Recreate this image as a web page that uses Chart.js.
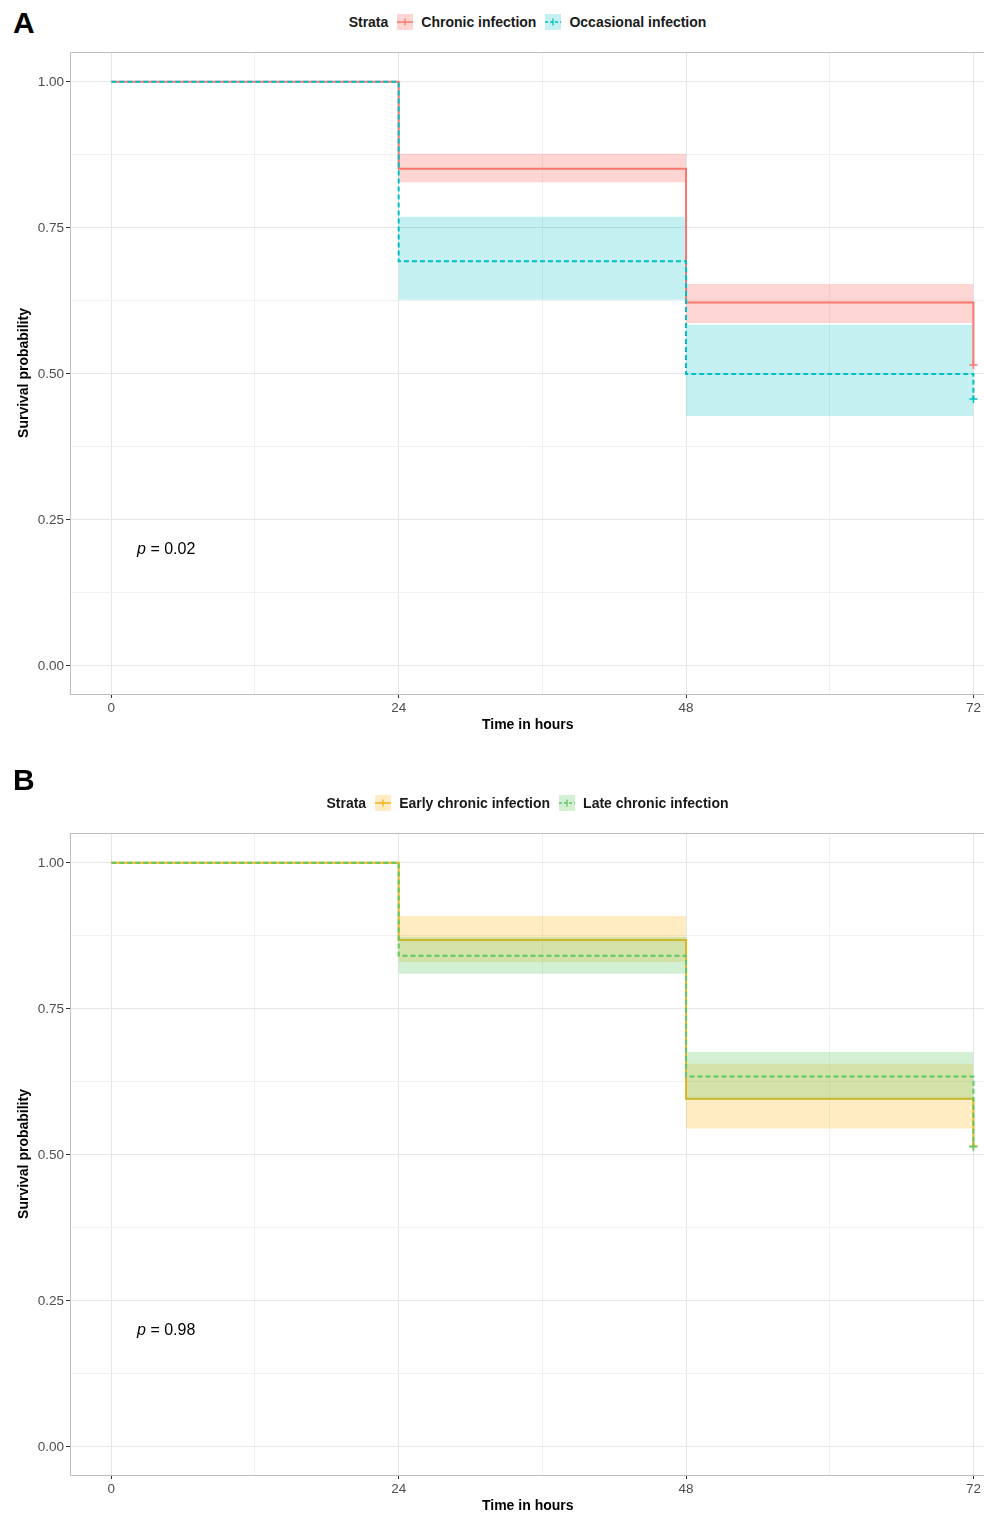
<!DOCTYPE html>
<html>
<head>
<meta charset="utf-8">
<script src="https://cdn.jsdelivr.net/npm/chart.js@4.4.1/dist/chart.umd.min.js"></script>
<style>
  body { margin: 0; background: #fff; font-family: "Liberation Sans", Arial, sans-serif; }
  #page { position: relative; width: 984px; height: 1513px; overflow: hidden; }
  canvas { position: absolute; left: 0; }
  .letter { position: absolute; left: 13px; font-weight: bold; font-size: 30px; line-height: 30px; color: #000; }
  .legend { position: absolute; left: 0; width: 1055px; height: 16px; display: flex; justify-content: center; align-items: center;
            font-weight: bold; font-size: 14px; color: #1a1a1a; white-space: nowrap; }
  .legend svg { margin: 0 8px 0 9px; }
</style>
</head>
<body>
<div id="page">
  <div class="letter" style="top:8px">A</div>
  <div class="legend" id="legendA" style="top:14px"></div>
  <canvas id="chartA" width="991" height="781" style="top:0"></canvas>

  <div class="letter" style="top:765px">B</div>
  <div class="legend" id="legendB" style="top:795px"></div>
  <canvas id="chartB" width="991" height="732" style="top:781px"></canvas>
</div>
<script>
(() => {
  'use strict'

  // shared axes
  const timeHours = [0, 24, 48, 72]
  const xTickValues = [0, 12, 24, 36, 48, 60, 72]
  const yTickValues = [0, 0.125, 0.25, 0.375, 0.5, 0.625, 0.75, 0.875, 1]

  // panel A
  const strataA = ['Chronic infection', 'Occasional infection']
  const chronicSurv = [1, 0.851, 0.622, 0.515]
  const chronicUpper = [1, 0.877, 0.654, 0.654]
  const chronicLower = [1, 0.828, 0.587, 0.587]
  const occasionalSurv = [1, 0.693, 0.500, 0.457]
  const occasionalUpper = [1, 0.769, 0.584, 0.584]
  const occasionalLower = [1, 0.627, 0.428, 0.428]
  const censorTimeA = [72, 72]
  const censorSurvA = [0.515, 0.457]
  const pValueA = '0.02'

  // panel B
  const strataB = ['Early chronic infection', 'Late chronic infection']
  const earlySurv = [1, 0.868, 0.596, 0.515]
  const earlyUpper = [1, 0.909, 0.656, 0.656]
  const earlyLower = [1, 0.830, 0.545, 0.545]
  const lateSurv = [1, 0.841, 0.634, 0.514]
  const lateUpper = [1, 0.873, 0.676, 0.676]
  const lateLower = [1, 0.810, 0.594, 0.594]
  const censorTimeB = [72, 72]
  const censorSurvB = [0.515, 0.514]
  const pValueB = '0.98'

  const pValPos = { x: 2.15, y: 0.2 }

  const red = '#F8766D', redFill = 'rgba(248,118,109,0.3)'
  const teal = '#00BFC4', tealFill = 'rgba(0,191,196,0.23)'
  const orange = '#F2B21A', orangeFill = 'rgba(255,176,0,0.24)'
  const green = '#5CC863', greenFill = 'rgba(92,200,99,0.27)'

  const pts = (xs, ys) => xs.map((x, i) => ({ x, y: ys[i] }))

  function bandSets (upper, lower, fillColor, order) {
    return [
      { data: pts(timeHours, upper), stepped: true, borderWidth: 0, borderColor: 'transparent',
        pointRadius: 0, fill: '+1', backgroundColor: fillColor, order },
      { data: pts(timeHours, lower), stepped: true, borderWidth: 0, borderColor: 'transparent',
        pointRadius: 0, fill: false, order }
    ]
  }

  function curveSet (surv, color, dashed, order) {
    return { data: pts(timeHours, surv), stepped: true, borderColor: color, borderWidth: 2,
      borderDash: dashed ? [5, 3] : [], pointRadius: 0, fill: false, order }
  }

  function censorSet (times, survs, colors) {
    return { data: pts(times, survs), showLine: false, pointStyle: 'cross', pointRadius: 4,
      pointBorderWidth: 1.5, pointBorderColor: colors, borderColor: colors, fill: false, order: 0 }
  }

  const isMajorY = v => Math.abs(v * 4 - Math.round(v * 4)) < 1e-6
  const isMajorX = v => v % 24 === 0

  const panelBorder = {
    id: 'panelBorder',
    afterDraw (chart) {
      const { ctx, chartArea: a } = chart
      ctx.save()
      ctx.strokeStyle = '#BDBDBD'
      ctx.lineWidth = 1
      ctx.strokeRect(a.left + 0.5, a.top + 0.5, a.right - a.left, a.bottom - a.top)
      ctx.restore()
    }
  }

  const pValueLabel = {
    id: 'pValueLabel',
    afterDatasetsDraw (chart, args, opts) {
      const { ctx, scales } = chart
      const x = scales.x.getPixelForValue(pValPos.x)
      const y = scales.y.getPixelForValue(pValPos.y)
      ctx.save()
      ctx.fillStyle = '#000'
      ctx.textBaseline = 'middle'
      ctx.textAlign = 'left'
      ctx.font = 'italic 16px "Liberation Sans", Arial, sans-serif'
      ctx.fillText('p', x, y)
      const w = ctx.measureText('p').width
      ctx.font = '16px "Liberation Sans", Arial, sans-serif'
      ctx.fillText(' = ' + opts.text, x + w, y)
      ctx.restore()
    }
  }

  function makeChart (id, datasets, pText, bottomPad) {
    return new Chart(document.getElementById(id), {
      type: 'line',
      data: { datasets },
      plugins: [panelBorder, pValueLabel],
      options: {
        responsive: false,
        animation: false,
        devicePixelRatio: 1,
        events: [],
        layout: { padding: { left: 0, right: 0, top: 52, bottom: bottomPad } },
        plugins: {
          legend: { display: false },
          tooltip: { enabled: false },
          pValueLabel: { text: pText }
        },
        scales: {
          x: {
            type: 'linear',
            min: -3.45,
            max: 73.01,
            afterBuildTicks: axis => { axis.ticks = xTickValues.map(v => ({ value: v })) },
            afterFit: axis => { axis.height = 38 },
            border: { display: false },
            grid: {
              color: c => isMajorX(c.tick.value) ? '#E6E6E6' : '#F0F0F0',
              lineWidth: 1,
              tickLength: 4,
              tickColor: c => isMajorX(c.tick.value) ? '#333' : 'transparent'
            },
            ticks: {
              autoSkip: false, maxRotation: 0, padding: 2, color: '#4D4D4D',
              font: { size: 13.5, family: '"Liberation Sans", Arial, sans-serif' },
              callback: v => isMajorX(v) ? String(v) : ''
            },
            title: {
              display: true, text: 'Time in hours', color: '#000', padding: { top: 0, bottom: -2 },
              font: { size: 14, weight: 'bold', family: '"Liberation Sans", Arial, sans-serif' }
            }
          },
          y: {
            type: 'linear',
            min: -0.048,
            max: 1.051,
            afterBuildTicks: axis => { axis.ticks = yTickValues.map(v => ({ value: v })) },
            afterFit: axis => { axis.width = 70 },
            border: { display: false },
            grid: {
              color: c => isMajorY(c.tick.value) ? '#E6E6E6' : '#F0F0F0',
              lineWidth: 1,
              tickLength: 4,
              tickColor: c => isMajorY(c.tick.value) ? '#333' : 'transparent'
            },
            ticks: {
              autoSkip: false, padding: 2, color: '#4D4D4D',
              font: { size: 13.5, family: '"Liberation Sans", Arial, sans-serif' },
              callback: v => isMajorY(v) ? v.toFixed(2) : ''
            },
            title: {
              display: true, text: 'Survival probability', color: '#000', padding: { top: 16 },
              font: { size: 14, weight: 'bold', family: '"Liberation Sans", Arial, sans-serif' }
            }
          }
        }
      }
    })
  }

  function legendIcon (color, fill, dashed) {
    return '<svg width="16" height="16" viewBox="0 0 16 16">' +
      '<rect x="0" y="0" width="16" height="16" fill="' + fill + '"/>' +
      '<line x1="0" y1="8" x2="16" y2="8" stroke="' + color + '" stroke-width="1.5"' +
      (dashed ? ' stroke-dasharray="3,2"' : '') + '/>' +
      '<line x1="8" y1="4.5" x2="8" y2="11.5" stroke="' + color + '" stroke-width="1.3"/></svg>'
  }

  function buildLegend (id, names, colors, fills) {
    let html = '<span>Strata</span>'
    names.forEach((n, i) => {
      html += legendIcon(colors[i], fills[i], i === 1) + '<span>' + n + '</span>'
    })
    document.getElementById(id).innerHTML = html
  }

  buildLegend('legendA', strataA, [red, teal], [redFill, tealFill])
  buildLegend('legendB', strataB, [orange, green], [orangeFill, greenFill])

  makeChart('chartA', [
    ...bandSets(chronicUpper, chronicLower, redFill, 6),
    ...bandSets(occasionalUpper, occasionalLower, tealFill, 5),
    curveSet(chronicSurv, red, false, 2),
    curveSet(occasionalSurv, teal, true, 1),
    censorSet(censorTimeA, censorSurvA, [red, teal])
  ], pValueA, 49)

  makeChart('chartB', [
    ...bandSets(earlyUpper, earlyLower, orangeFill, 6),
    curveSet(earlySurv, orange, false, 5),
    ...bandSets(lateUpper, lateLower, greenFill, 4),
    curveSet(lateSurv, green, true, 1),
    censorSet(censorTimeB, censorSurvB, [orange, green])
  ], pValueB, 0)
})()
</script>
</body>
</html>
